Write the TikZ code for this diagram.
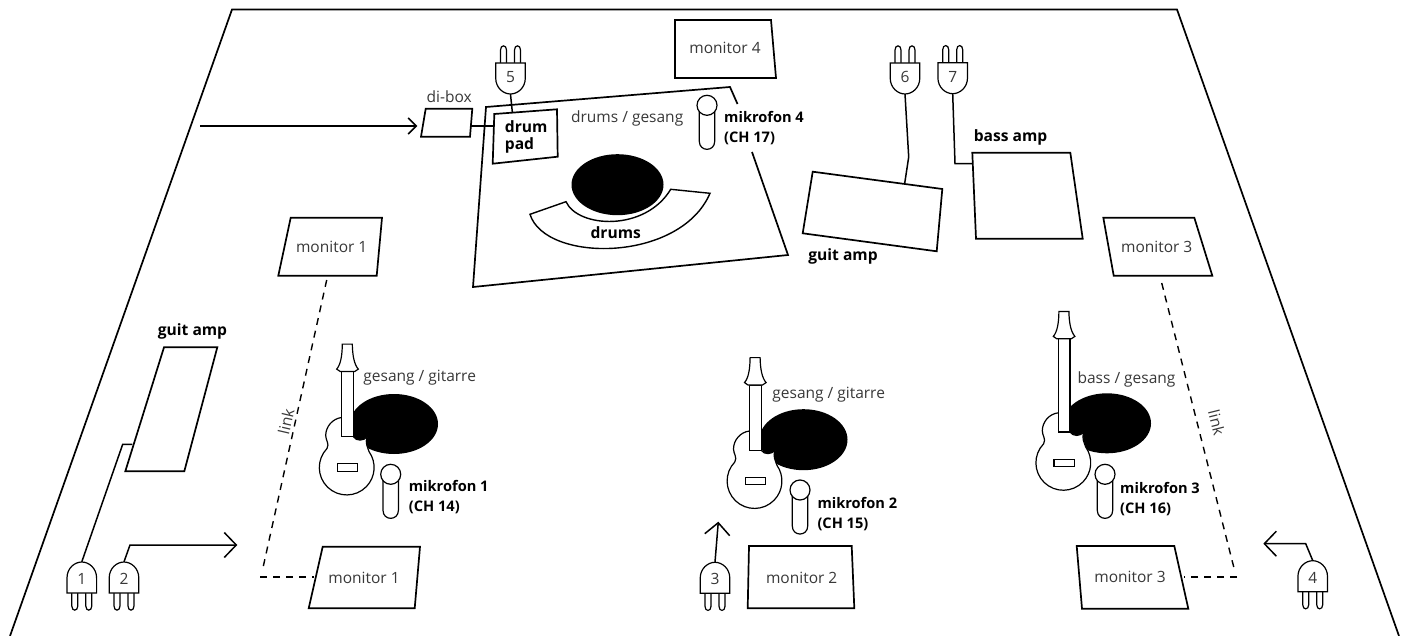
\documentclass[tikz,border=0pt]{standalone}
\usepackage{fontspec}
\setmainfont{Open Sans}
\usetikzlibrary{arrows.meta}

\tikzset{
	outline/.style = {line width = 1.7pt, line join = miter},
	wire/.style = {line width = 1.5pt},
	linkline/.style = {line width = 1.4pt, dash pattern = on 7pt off 6pt},
	thin part/.style = {line width = 1.2pt, fill = white},
	lbl/.style = {inner sep = 0pt, text = black!78, font = \fontsize{15.5}{20}\selectfont},
	boldlbl/.style = {inner sep = 0pt, align = left, text = black, font = \fontsize{14.6}{20}\selectfont\bfseries},
	amplbl/.style = {boldlbl, font = \fontsize{15.6}{20}\selectfont\bfseries},
	bigarrow/.style = {-{Straight Barb[length = 12pt, width = 25pt]}},
	smallarrow/.style = {-{Straight Barb[length = 8pt, width = 16pt]}},
	pics/plug/.style = {code = {
		\draw[thin part] (-10,0) -- (-10,-13) .. controls (-10,-18.5) and (-4,-18.5) .. (-4,-13) -- (-4,0);
		\draw[thin part] (4,0) -- (4,-13) .. controls (4,-18.5) and (10,-18.5) .. (10,-13) -- (10,0);
		\draw[thin part] (-14.8,0) -- (-14.8,15) .. controls (-14.8,25) and (-7,31) .. (0,31)
			.. controls (7,31) and (14.8,25) .. (14.8,15) -- (14.8,0) -- cycle;
		\node[lbl, circle, minimum size = 34pt] (-num) at (0,14) {#1};
	}},
	pics/guitar/.style = {code = {
		\draw[thin part] (-5,-50) .. controls (-14,-49) and (-21,-41) .. (-21,-32)
			.. controls (-21,-27) and (-17,-24) .. (-19.7,-19)
			arc[start angle = -136, end angle = -395, radius = 27.4]
			.. controls (21,-20) and (18,-25) .. (20.6,-30.8)
			.. controls (17,-26.5) and (10,-26) .. (6.6,-30.8) -- cycle;
		\draw[thin part] (-9.4,-3.7) rectangle (11,3.6);
		\draw[thin part] (-5,-30.8) -- (-5,-96-#1) -- (6.6,-96-#1) -- (6.6,-30.8) -- cycle;
		\draw[thin part] (-10,-98.4-#1) .. controls (-6,-103-#1) and (-4.5,-112-#1) .. (-4.4,-123.4-#1)
			-- (5.6,-123.4-#1) .. controls (5.8,-112-#1) and (7.5,-103-#1) .. (11.6,-98.4-#1)
			-- (8,-96-#1) -- (-6.5,-96-#1) -- cycle;
	}},
	pics/mic/.style = {code = {
		\draw[thin part] (-7.7,0) -- (-7.7,36) .. controls (-7.7,46.7) and (7.7,46.7) .. (7.7,36) -- (7.7,0);
		\draw[thin part] (0,0) circle[radius = 10];
	}}
}

\begin{document}
\begin{tikzpicture}[x = 1pt, y = -1pt]
	\useasboundingbox (0,0) rectangle (1407,636);

	% stage and riser
	\draw[outline] (10,636) -- (232,9.5) -- (1177,9.5) -- (1399,636);
	\draw[outline] (737.5,104) -- (730,87) -- (486,107) -- (473,287) -- (788,255) -- (752,152);

	% boxes
	\draw[outline] (675,20) -- (771,20) -- (776,78) -- (675,78) -- cycle;
	\draw[outline] (290.7,217.7) -- (382,217.7) -- (376.7,275.7) -- (278.3,275.7) -- cycle;
	\draw[outline] (1103.3,217.7) -- (1194.3,217.7) -- (1212.3,275.7) -- (1113.7,275.7) -- cycle;
	\draw[outline] (322.7,546.7) -- (420,546.7) -- (414.7,608.3) -- (308.7,608.3) -- cycle;
	\draw[outline] (749,546) -- (851.7,546) -- (854.3,608.3) -- (747.7,608.3) -- cycle;
	\draw[outline] (1076.7,546) -- (1174.3,546) -- (1188.3,608.7) -- (1082,608.7) -- cycle;
	\draw[outline] (425.7,108.7) -- (472.3,108.7) -- (470,136.7) -- (421,136.7) -- cycle;
	\draw[outline, fill = white] (494.3,114) -- (557,109.3) -- (557.7,156.7) -- (492.7,163.7) -- cycle;
	\draw[outline] (812.7,171.7) -- (942.3,189) -- (936.7,251.3) -- (802.7,233.3) -- cycle;
	\draw[outline] (972.3,152.7) -- (1070.3,152.7) -- (1082.7,238.7) -- (976,238.7) -- cycle;
	\draw[outline] (164,347.3) -- (217.3,347.3) -- (184.3,471.3) -- (125.3,471.3) -- cycle;

	% drums
	\fill (617.5,184.7) ellipse[x radius = 46, y radius = 30.5];
	\draw[thin part, line width = 1.4pt] (530,214.3) -- (566,201.7) .. controls (578,228) and (645,232) .. (670.7,189.3)
		-- (710,193.3) .. controls (680,263) and (545,263) .. (530,214.3) -- cycle;

	% players
	\fill (394,424) ellipse[x radius = 44, y radius = 30];
	\fill (803.5,439.7) ellipse[x radius = 44, y radius = 30.5];
	\fill (1107,423.3) ellipse[x radius = 44, y radius = 30];
	\pic at (346.7,467.5) {guitar = 0};
	\pic at (754.5,481) {guitar = 0};
	\pic at (1063.3,462.8) {guitar = 28};

	\pic at (707,105.3) {mic};
	\pic at (390.7,474.3) {mic};
	\pic at (800,490) {mic};
	\pic at (1105,474.3) {mic};

	% plugs
	\pic (P5) at (510.5,63) {plug = 5};
	\pic (P6) at (905,63) {plug = 6};
	\pic (P7) at (952.7,62.7) {plug = 7};
	\pic[yscale = -1] (P1) at (81.8,593) {plug = 1};
	\pic[yscale = -1] (P2) at (124,593) {plug = 2};
	\pic[yscale = -1] (P3) at (715,593.3) {plug = 3};
	\pic[yscale = -1] (P4) at (1312.7,591.7) {plug = 4};

	% ends of the wires
	\coordinate (diin) at (200,126);
	\coordinate (dibox) at (417.3,126);
	\coordinate (diout) at (470.7,126);
	\coordinate (padleft) at (492.7,126);
	\coordinate (padtop) at (512.3,112);
	\coordinate (guitbend) at (908.7,157);
	\coordinate (guitright) at (904.7,183.3);
	\coordinate (bassbend) at (955,163.7);
	\coordinate (bassleft) at (972,163.7);
	\coordinate (guitbend2) at (122.7,444.3);
	\coordinate (guitleft) at (132.3,444.3);
	\coordinate (arrow2bend) at (130,545);
	\coordinate (arrow2) at (237.3,545);
	\coordinate (arrow3) at (718.3,521.7);
	\coordinate (arrow4bend) at (1305.7,543.7);
	\coordinate (arrow4) at (1263.3,543.7);

	\draw[wire, smallarrow] (diin) -- (dibox);
	\draw[wire] (diout) -- (padleft);
	\draw[wire] (P5-num.south) -- (padtop);
	\draw[wire] (P6-num.south) -- (guitbend) -- (guitright);
	\draw[wire] (P7-num.south) -- (bassbend) -- (bassleft);
	\draw[wire] (P1-num.north) -- (guitbend2) -- (guitleft);
	\draw[wire, bigarrow] (P2-num.north) -- (arrow2bend) -- (arrow2);
	\draw[wire, bigarrow] (P3-num.north) -- (arrow3);
	\draw[wire, bigarrow] (P4-num.north) -- (arrow4bend) -- (arrow4);

	% link lines
	\coordinate (linkA) at (326.7,280);
	\coordinate (linkB) at (262.7,569);
	\coordinate (linkC) at (260,577);
	\coordinate (linkD) at (314,577);
	\coordinate (linkE) at (1161.7,283);
	\coordinate (linkF) at (1234.3,569.3);
	\coordinate (linkG) at (1237,577);
	\coordinate (linkH) at (1184,577);
	\draw[linkline] (linkA) -- (linkB);
	\draw[linkline] (linkC) -- (linkD);
	\draw[linkline] (linkE) -- (linkF);
	\draw[linkline] (linkG) -- (linkH);

	% texts
	\node[lbl] (M4) at (725,47.7) {monitor 4};
	\node[lbl] (M1) at (331.7,246.7) {monitor 1};
	\node[lbl] (M3) at (1156.7,246.7) {monitor 3};
	\node[lbl] (M1b) at (364,577.7) {monitor 1};
	\node[lbl] (M2) at (801.7,577.7) {monitor 2};
	\node[lbl] (M3b) at (1130,577.3) {monitor 3};
	\node[lbl] (DI) at (449.2,96.7) {di-box};
	\node[lbl] (DG) at (627.2,118) {drums / gesang};
	\node[lbl] (GG1) at (419.7,378) {gesang / gitarre};
	\node[lbl] (GG2) at (828.7,395) {gesang / gitarre};
	\node[lbl] (BG) at (1126.5,379) {bass / gesang};
	\node[lbl, rotate = 77] (L1) at (286,421.7) {link};
	\node[lbl, rotate = -76] (L2) at (1216.7,422.7) {link};

	\node[amplbl, anchor = west] (PAD) at (504.7,136.7) {drum\\[-3.5pt]pad};
	\node[amplbl] (DR) at (615.7,232.7) {drums};
	\node[boldlbl, anchor = west] (MK4) at (724,128.5) {mikrofon 4\\(CH 17)};
	\node[boldlbl, anchor = west] (MK1) at (408.7,496.7) {mikrofon 1\\(CH 14)};
	\node[boldlbl, anchor = west] (MK2) at (817.3,514.2) {mikrofon 2\\(CH 15)};
	\node[boldlbl, anchor = west] (MK3) at (1120,498.7) {mikrofon 3\\(CH 16)};
	\node[amplbl] (GA1) at (192.5,331) {guit amp};
	\node[amplbl] (GA2) at (843,256) {guit amp};
	\node[amplbl] (BA) at (1010.5,137) {bass amp};
\end{tikzpicture}
\end{document}
